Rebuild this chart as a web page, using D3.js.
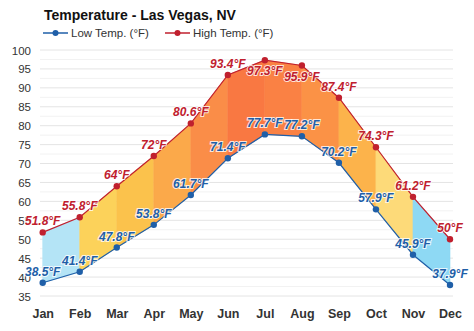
<!DOCTYPE html>
<html>
<head>
<meta charset="utf-8">
<script src="https://cdn.jsdelivr.net/npm/d3@7"></script>
<style>
  html, body { margin: 0; padding: 0; background: #ffffff; }
  svg { display: block; font-family: "Liberation Sans", Arial, sans-serif; }
</style>
</head>
<body>
<svg id="chart" width="474" height="331"></svg>
<script>
// Monthly averages for Las Vegas, NV
const months = ["Jan", "Feb", "Mar", "Apr", "May", "Jun", "Jul", "Aug", "Sep", "Oct", "Nov", "Dec"];
const lowTemps = [38.5, 41.4, 47.8, 53.8, 61.7, 71.4, 77.7, 77.2, 70.2, 57.9, 45.9, 37.9];
const highTemps = [51.8, 55.8, 64, 72, 80.6, 93.4, 97.3, 95.9, 87.4, 74.3, 61.2, 50];
const yTicks = [35, 40, 45, 50, 55, 60, 65, 70, 75, 80, 85, 90, 95, 100];
// fill colour of the band between each pair of neighbouring months
const bandColors = ["#b4e4f6", "#fcd25a", "#fbc24c", "#fba94a", "#fa8d48", "#f97842",
                    "#fa8144", "#fb9246", "#fcb34b", "#fdda79", "#8ed9f4"];
// labels drawn under their point instead of above it
const highLabelsBelow = ["Jul", "Aug"];

const lowColor = "#1f5fa8";
const highColor = "#c0202e";

const svg = d3.select("#chart");

const x = d3.scalePoint().domain(months).range([42.7, 450]);
const y = d3.scaleLinear().domain([35, 100]).range([296, 50]);

// background grid: major lines every 5°, faint ones in between
const grid = svg.append("g");
const minor = d3.range(37.5, 100, 5);
grid.selectAll("line.minor").data(minor).enter().append("line")
  .attr("x1", 40).attr("x2", 453)
  .attr("y1", d => y(d)).attr("y2", d => y(d))
  .attr("stroke", "#f2f2f2").attr("stroke-width", 1);
grid.selectAll("line.major").data(yTicks).enter().append("line")
  .attr("x1", 40).attr("x2", 453)
  .attr("y1", d => y(d)).attr("y2", d => y(d))
  .attr("stroke", "#e4e4e4").attr("stroke-width", 1);

// y axis labels
const yAxis = d3.axisLeft(y).tickValues(yTicks).tickSize(0).tickPadding(0);
const yg = svg.append("g").attr("transform", "translate(31,0)").call(yAxis);
yg.select(".domain").remove();
yg.selectAll("text")
  .attr("font-size", "11.5px").attr("fill", "#333").attr("font-family", "Liberation Sans, Arial, sans-serif")
  .attr("dy", "0.35em");

// x axis labels
const xAxis = d3.axisBottom(x).tickSize(0).tickPadding(0);
const xg = svg.append("g").attr("transform", "translate(0,309)").call(xAxis);
xg.select(".domain").remove();
xg.selectAll("text")
  .attr("font-size", "12.5px").attr("font-weight", "bold").attr("fill", "#333")
  .attr("font-family", "Liberation Sans, Arial, sans-serif");

// coloured bands between the low and high curves
const bands = d3.range(months.length - 1).map(i => [
  [x(months[i]), y(highTemps[i])],
  [x(months[i + 1]), y(highTemps[i + 1])],
  [x(months[i + 1]), y(lowTemps[i + 1])],
  [x(months[i]), y(lowTemps[i])]
]);
svg.append("g").selectAll("path").data(bands).enter().append("path")
  .attr("d", d => "M" + d.join("L") + "Z")
  .attr("fill", (d, i) => bandColors[i])
  .attr("stroke", (d, i) => bandColors[i]).attr("stroke-width", 0.6);

// lines and markers
const line = d3.line().x((d, i) => x(months[i])).y(d => y(d));
function drawSeries(values, color) {
  svg.append("path").datum(values)
    .attr("d", line).attr("fill", "none")
    .attr("stroke", color).attr("stroke-width", 1.2);
  svg.append("g").selectAll("circle").data(values).enter().append("circle")
    .attr("cx", (d, i) => x(months[i])).attr("cy", d => y(d))
    .attr("r", 3.2).attr("fill", color);
}
drawSeries(lowTemps, lowColor);
drawSeries(highTemps, highColor);

// value labels
function drawLabels(values, color, belowSet) {
  svg.append("g").selectAll("text").data(values).enter().append("text")
    .attr("x", (d, i) => x(months[i]))
    .attr("y", (d, i) => belowSet.includes(months[i]) ? y(d) + 15 : y(d) - 7)
    .attr("text-anchor", "middle")
    .attr("font-size", "12px").attr("font-weight", "bold").attr("font-style", "italic")
    .attr("fill", color)
    .attr("stroke", "#ffffff").attr("stroke-width", 2).attr("stroke-opacity", 0.8)
    .attr("paint-order", "stroke")
    .text(d => d + "°F");
}
drawLabels(lowTemps, lowColor, []);
drawLabels(highTemps, highColor, highLabelsBelow);

// title
svg.append("text").attr("x", 44).attr("y", 20)
  .attr("font-size", "14px").attr("font-weight", "bold").attr("fill", "#111")
  .text("Temperature - Las Vegas, NV");

// legend
const legend = [
  { name: "Low Temp. (°F)", color: lowColor, x: 43 },
  { name: "High Temp. (°F)", color: highColor, x: 165 }
];
const lg = svg.append("g").selectAll("g").data(legend).enter().append("g")
  .attr("transform", d => `translate(${d.x},33)`);
lg.append("line").attr("x1", 0).attr("x2", 25).attr("y1", 0).attr("y2", 0)
  .attr("stroke", d => d.color).attr("stroke-width", 1.5);
lg.append("circle").attr("cx", 12.5).attr("cy", 0).attr("r", 3).attr("fill", d => d.color);
lg.append("text").attr("x", 28).attr("y", 4)
  .attr("font-size", "11.5px").attr("fill", "#333")
  .text(d => d.name);
</script>
</body>
</html>
